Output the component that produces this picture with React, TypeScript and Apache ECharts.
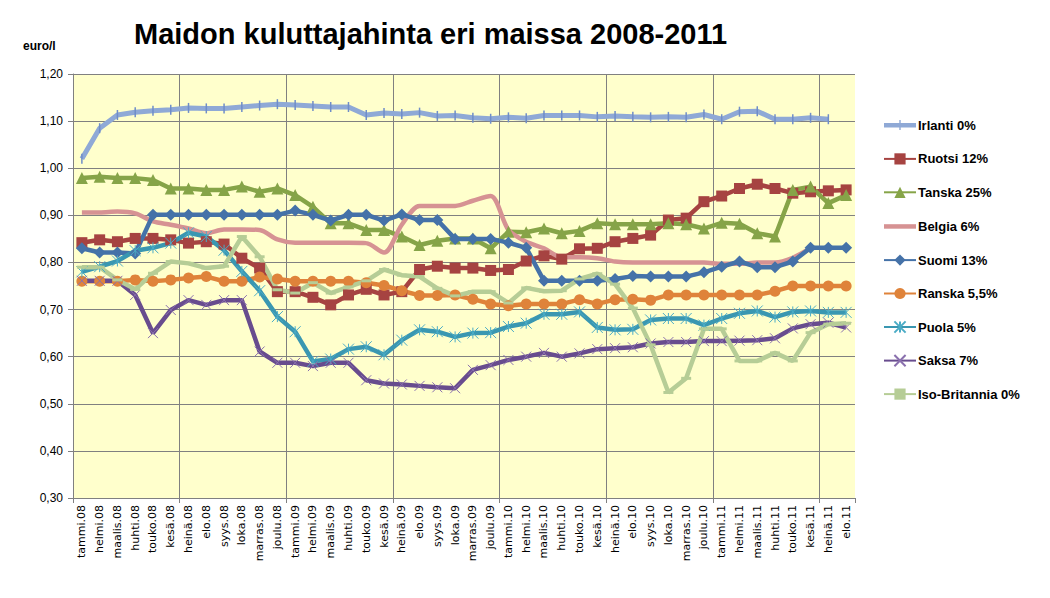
import React, { useEffect, useRef } from "react";
import * as echarts from "echarts";

const months = ["tammi", "helmi", "maalis", "huhti", "touko", "kesä", "heinä", "elo", "syys", "loka", "marras", "joulu"];
const categories: string[] = [];
["08", "09", "10", "11"].forEach((y) => {
  months.forEach((m, i) => {
    if (y === "11" && i > 7) return;
    categories.push(m + "." + y);
  });
});

const irlanti = [1.02, 1.085, 1.113, 1.119, 1.122, 1.124, 1.128, 1.127, 1.127, 1.130, 1.133, 1.136, 1.134, 1.132, 1.130, 1.130, 1.113, 1.117, 1.115, 1.118, 1.111, 1.112, 1.107, 1.105, 1.108, 1.106, 1.112, 1.112, 1.112, 1.109, 1.111, 1.109, 1.108, 1.109, 1.108, 1.114, 1.104, 1.120, 1.121, 1.104, 1.104, 1.107, 1.104, null];
const ruotsi = [0.842, 0.848, 0.844, 0.851, 0.851, 0.848, 0.841, 0.844, 0.839, 0.809, 0.788, 0.738, 0.738, 0.726, 0.71, 0.731, 0.743, 0.731, 0.738, 0.785, 0.792, 0.788, 0.788, 0.783, 0.785, 0.803, 0.814, 0.807, 0.829, 0.830, 0.844, 0.851, 0.858, 0.890, 0.894, 0.929, 0.941, 0.957, 0.966, 0.957, 0.947, 0.950, 0.952, 0.954];
const tanska = [0.979, 0.982, 0.979, 0.979, 0.975, 0.957, 0.957, 0.954, 0.954, 0.961, 0.950, 0.957, 0.943, 0.918, 0.883, 0.883, 0.869, 0.869, 0.855, 0.837, 0.846, 0.851, 0.851, 0.830, 0.865, 0.864, 0.872, 0.862, 0.867, 0.883, 0.881, 0.881, 0.881, 0.883, 0.881, 0.872, 0.884, 0.882, 0.862, 0.855, 0.954, 0.961, 0.926, 0.943];
const belgia = [0.906, 0.906, 0.908, 0.904, 0.887, 0.880, 0.872, 0.862, 0.870, 0.870, 0.869, 0.849, 0.842, 0.842, 0.842, 0.842, 0.841, 0.821, 0.880, 0.920, 0.920, 0.920, 0.931, 0.941, 0.869, 0.844, 0.830, 0.811, 0.811, 0.809, 0.802, 0.800, 0.800, 0.800, 0.800, 0.800, 0.797, 0.797, 0.800, 0.800, 0.810, 0.830, null, null];
const suomi = [0.830, 0.821, 0.821, 0.819, 0.901, 0.901, 0.901, 0.901, 0.901, 0.901, 0.901, 0.901, 0.910, 0.901, 0.889, 0.901, 0.901, 0.889, 0.902, 0.890, 0.890, 0.850, 0.850, 0.850, 0.842, 0.831, 0.761, 0.761, 0.761, 0.761, 0.765, 0.771, 0.770, 0.770, 0.770, 0.779, 0.791, 0.802, 0.790, 0.790, 0.802, 0.831, 0.831, 0.831];
const ranska = [0.760, 0.760, 0.760, 0.763, 0.760, 0.763, 0.767, 0.770, 0.760, 0.760, 0.769, 0.765, 0.760, 0.760, 0.760, 0.760, 0.757, 0.751, 0.740, 0.730, 0.730, 0.731, 0.722, 0.712, 0.708, 0.712, 0.712, 0.712, 0.721, 0.712, 0.721, 0.722, 0.720, 0.731, 0.731, 0.731, 0.731, 0.731, 0.731, 0.739, 0.750, 0.750, 0.750, 0.750];
const puola = [0.780, 0.791, 0.803, 0.825, 0.831, 0.841, 0.863, 0.855, 0.826, 0.781, 0.740, 0.685, 0.653, 0.590, 0.595, 0.616, 0.621, 0.604, 0.635, 0.657, 0.653, 0.642, 0.650, 0.651, 0.664, 0.671, 0.690, 0.690, 0.695, 0.662, 0.657, 0.658, 0.678, 0.681, 0.681, 0.667, 0.681, 0.692, 0.697, 0.684, 0.695, 0.697, 0.694, 0.694];
const saksa = [0.761, 0.761, 0.761, 0.731, 0.650, 0.699, 0.720, 0.710, 0.720, 0.720, 0.611, 0.587, 0.587, 0.580, 0.587, 0.587, 0.550, 0.543, 0.541, 0.538, 0.535, 0.533, 0.572, 0.582, 0.593, 0.600, 0.608, 0.600, 0.607, 0.616, 0.618, 0.620, 0.628, 0.631, 0.631, 0.633, 0.633, 0.634, 0.635, 0.639, 0.660, 0.669, 0.672, 0.662];
const isoBritannia = [0.790, 0.790, 0.763, 0.743, 0.777, 0.802, 0.798, 0.788, 0.792, 0.855, 0.812, 0.742, 0.735, 0.757, 0.735, 0.748, 0.761, 0.785, 0.773, 0.770, 0.745, 0.729, 0.738, 0.738, 0.714, 0.746, 0.739, 0.740, 0.765, 0.776, 0.754, 0.703, 0.625, 0.524, 0.554, 0.659, 0.659, 0.591, 0.591, 0.608, 0.591, 0.651, 0.669, 0.671];

const yMin = 0.3;
const yMax = 1.2;
const yStep = 0.1;

const STAR = "path://M0,0 L10,10 M10,0 L0,10 M5,0 L5,10";
const CROSS = "path://M0,0 L10,10 M10,0 L0,10";
const LINE_ICON = "path://M0,0 M32,14 M0,5 L32,5 L32,9.5 L0,9.5 Z";
const PLUS_ICON = "path://M0,0 M32,14 M0,5 L15.3,5 L15.3,2 L16.7,2 L16.7,5 L32,5 L32,9.5 L16.7,9.5 L16.7,12 L15.3,12 L15.3,9.5 L0,9.5 Z";

export default function App() {
  const ref = useRef<HTMLDivElement>(null);
  useEffect(() => {
    if (!ref.current) return;
    const chart = echarts.init(ref.current, null, { renderer: "svg" });
    const mk = (name: string, data: (number | null)[], color: string, symbol: string, symbolSize: any, extra: any = {}) => ({
      name,
      type: "line",
      data,
      color,
      symbol,
      symbolSize,
      showSymbol: symbol !== "none",
      lineStyle: { color, width: 4.5 },
      itemStyle: { color },
      z: 2,
      ...extra,
    });
    const every6 = (i: number) => i % 6 === 0;
    const names = ["Irlanti 0%", "Ruotsi 12%", "Tanska 25%", "Belgia 6%", "Suomi 13%", "Ranska 5,5%", "Puola 5%", "Saksa 7%", "Iso-Britannia 0%"];
    const option: any = {
      animation: false,
      backgroundColor: "#ffffff",
      title: {
        text: "Maidon kuluttajahinta eri maissa 2008-2011",
        left: 129,
        top: 14,
        textStyle: { fontFamily: "Liberation Sans", fontWeight: "bold", fontSize: 29, color: "#000" },
      },
      graphic: [
        {
          type: "text",
          left: 23,
          top: 40,
          style: { text: "euro/l", font: "bold 12px 'Liberation Sans'", fill: "#000" },
        },
      ],
      legend: {
        orient: "vertical",
        left: 878,
        top: 113,
        itemWidth: 32,
        itemHeight: 14,
        itemGap: 20.4,
        data: names.map((n) =>
          n === "Belgia 6%" ? { name: n, icon: LINE_ICON } : n === "Irlanti 0%" ? { name: n, icon: PLUS_ICON, itemStyle: { color: "#8FA9D6" } } : { name: n }
        ),
        textStyle: { fontFamily: "Liberation Sans", fontWeight: "bold", fontSize: 13, color: "#000", padding: [0, 0, 0, -3] },
      },
      grid: {
        left: 73,
        right: 195,
        top: 74,
        bottom: 100,
        show: true,
        backgroundColor: "#FFFFCC",
        borderWidth: 0,
      },
      xAxis: {
        type: "category",
        data: categories,
        boundaryGap: true,
        axisLine: { lineStyle: { color: "#808080", width: 1 } },
        axisTick: { show: true, interval: every6, length: 5, lineStyle: { color: "#808080" } },
        splitLine: { show: true, interval: every6, showMaxLine: false, lineStyle: { color: "#808080", width: 1 } },
        axisLabel: {
          interval: 0,
          rotate: 90,
          margin: 7,
          fontFamily: "DejaVu Sans",
          fontSize: 11,
          color: "#000",
        },
      },
      yAxis: {
        type: "value",
        min: yMin,
        max: yMax,
        interval: yStep,
        axisLine: { show: true, lineStyle: { color: "#808080", width: 1 } },
        axisTick: { show: true, length: 5, lineStyle: { color: "#808080" } },
        splitLine: { show: true, lineStyle: { color: "#808080", width: 1 } },
        axisLabel: {
          margin: 10,
          fontFamily: "Liberation Sans",
          fontSize: 12,
          color: "#000",
          formatter: (v: number) => v.toFixed(2).replace(".", ","),
        },
      },
      series: [
        mk(names[0], irlanti, "#8FA9D6", "rect", [1.5, 10], { itemStyle: { color: "#6F8DC8" }, lineStyle: { color: "#8FA9D6", width: 5 } }),
        mk(names[1], ruotsi, "#A64341", "rect", 11),
        mk(names[2], tanska, "#86A448", "triangle", 12),
        mk(names[3], belgia, "#D69293", "none", 0, { smooth: 0.3 }),
        mk(names[4], suomi, "#4572A8", "diamond", 12),
        mk(names[5], ranska, "#DF833A", "circle", 11),
        mk(names[6], puola, "#3A97B1", STAR, 11, {
          itemStyle: { color: "rgba(0,0,0,0)", borderColor: "#4BACC6", borderWidth: 1 },
        }),
        mk(names[7], saksa, "#684C8E", CROSS, 10, {
          itemStyle: { color: "rgba(0,0,0,0)", borderColor: "#8A70AE", borderWidth: 1 },
        }),
        mk(names[8], isoBritannia, "#B6CD96", "rect", [10, 3]),
      ],
    };
    chart.setOption(option);
    return () => chart.dispose();
  }, []);
  return <div ref={ref} style={{ position: "fixed", left: 0, top: 0, width: 1050, height: 598 }} />;
}
